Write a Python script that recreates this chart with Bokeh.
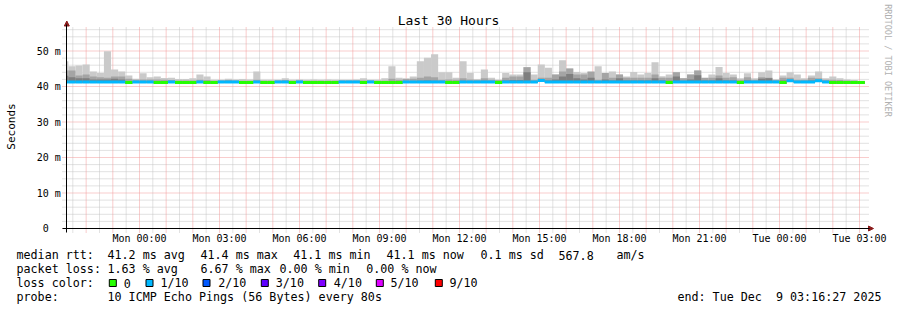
from bokeh.plotting import figure
from bokeh.models import Range1d, FixedTicker, ColumnDataSource
from bokeh.core.properties import value
from bokeh.embed import file_html
from bokeh.resources import INLINE
import math

# ---------------- data ----------------
# time in hours relative to Mon 00:00
view_start_h = -(2 + 43 / 60 + 33 / 3600)      # Sun 21:16:27
view_end_h = 27 + 16 / 60 + 27 / 3600          # Tue 03:16:27
tick_hours = [0, 3, 6, 9, 12, 15, 18, 21, 24, 27]
tick_labels = ["Mon 00:00", "Mon 03:00", "Mon 06:00", "Mon 09:00", "Mon 12:00",
               "Mon 15:00", "Mon 18:00", "Mon 21:00", "Tue 00:00", "Tue 03:00"]
y_ticks = [0, 10, 20, 30, 40, 50]
y_tick_labels = ["0\u00a0\u00a0", "10 m", "20 m", "30 m", "40 m", "50 m"]

bar_step_min = 16          # consolidation step
first_bar_min = -176       # Sun 21:04

# loss class per bar: 0 -> 0 lost, 1 -> 1/10 lost
loss = [1, 1, 1, 1, 1, 1, 1, 1, 1, 0,
        1, 1, 1, 0, 0, 1, 0, 0, 0, 1,
        0, 0, 1, 1, 1, 0, 0, 1, 0, 0,
        1, 1, 0, 1, 0, 0, 0, 0, 0, 1,
        1, 1, 0, 1, 0, 0, 0, 0, 1, 1,
        1, 1, 1, 1, 0, 0, 1, 1, 1, 1,
        1, 0, 1, 1, 1, 1, 1, 1, 1, 1,
        1, 1, 1, 1, 1, 1, 1, 1, 1, 1,
        1, 1, 1, 1, 1, 0, 1, 1, 1, 1,
        1, 1, 1, 1, 1, 0, 1, 1, 1, 1,
        1, 0, 1, 1, 1, 1, 1, 1, 0, 0,
        0, 0, 0]

median_ms = [41.3, 41.3, 41.3, 41.3, 41.3, 41.3, 41.3, 41.3, 41.3, 41.1,
             41.3, 41.3, 41.3, 41.1, 41.1, 41.3, 41.1, 41.1, 41.1, 41.3,
             41.1, 41.1, 41.3, 41.3, 41.3, 41.1, 41.1, 41.3, 41.1, 41.1,
             41.3, 41.3, 41.1, 41.3, 41.1, 41.1, 41.1, 41.1, 41.1, 41.3,
             41.3, 41.3, 41.1, 41.3, 41.1, 41.1, 41.1, 41.1, 41.3, 41.3,
             41.3, 41.3, 41.3, 41.3, 41.1, 41.1, 41.3, 41.3, 41.3, 41.3,
             41.3, 41.1, 41.3, 41.3, 41.3, 41.3, 41.3, 41.7, 41.3, 41.3,
             41.3, 41.3, 41.3, 41.3, 41.3, 41.3, 41.3, 41.3, 41.3, 41.3,
             41.3, 41.3, 41.3, 41.3, 41.3, 41.1, 41.3, 41.3, 41.3, 41.3,
             41.3, 41.3, 41.3, 41.3, 41.3, 41.1, 41.3, 41.3, 41.3, 41.3,
             41.3, 41.1, 41.6, 41.3, 41.3, 41.3, 41.6, 41.3, 41.1, 41.1,
             41.1, 41.1, 41.1]

# smoke: outer (max) ping band top
smoke_max = [47.1, 45.7, 45.9, 46.2, 44.2, 43.8, 49.9, 44.8, 44.2, 43.1,
             42.2, 43.7, 42.6, 42.8, 42.4, 42.5, 42.1, 42.1, 42.3, 43.4,
             42.8, 41.9, 41.9, 42.2, 42.0, 42.1, 42.0, 44.2, 41.9, 41.9,
             41.9, 42.3, 41.9, 42.0, 41.9, 42.0, 41.9, 42.0, 41.9, 41.9,
             41.9, 42.0, 42.3, 41.9, 41.9, 42.3, 45.7, 42.5, 42.3, 42.8,
             47.1, 48.1, 49.1, 44.0, 44.0, 42.5, 47.1, 43.8, 42.0, 44.8,
             42.5, 41.9, 43.8, 43.4, 43.4, 45.5, 43.4, 46.2, 45.3, 43.4,
             47.4, 45.1, 44.1, 43.8, 44.1, 45.7, 43.8, 44.2, 43.4, 42.8,
             44.1, 43.4, 43.8, 46.8, 42.9, 43.4, 44.0, 42.3, 43.4, 44.5,
             42.3, 43.4, 45.5, 43.8, 43.4, 42.3, 43.7, 42.3, 44.0, 44.5,
             41.9, 43.1, 44.0, 43.4, 42.3, 43.1, 44.2, 42.3, 42.8, 42.3,
             42.0, 41.8, 41.6]

# second ping band top
smoke_p2 = [44.5, 44.5, 43.1, 43.4, 42.8, 42.6, 42.5, 42.8, 42.8, 42.2,
            41.9, 42.0, 42.0, 42.0, 41.9, 41.8, 41.7, 41.7, 41.7, 41.9,
            41.8, 41.6, 41.7, 41.8, 41.7, 41.6, 41.6, 41.9, 41.6, 41.6,
            41.7, 41.8, 41.6, 41.7, 41.6, 41.6, 41.6, 41.6, 41.6, 41.7,
            41.7, 41.7, 41.7, 41.7, 41.6, 41.6, 42.2, 41.9, 42.1, 42.2,
            42.5, 42.8, 42.6, 41.9, 42.0, 41.9, 42.3, 42.0, 41.9, 42.3,
            41.9, 41.8, 42.5, 42.8, 42.8, 45.4, 41.9, 42.5, 42.5, 43.4,
            44.2, 45.1, 43.4, 43.4, 44.2, 41.9, 43.8, 42.5, 43.4, 42.5,
            42.5, 42.5, 42.5, 43.4, 42.5, 42.5, 44.0, 42.3, 43.4, 44.5,
            42.5, 42.5, 43.1, 42.5, 42.6, 41.9, 42.6, 41.9, 42.6, 42.5,
            41.9, 42.5, 42.5, 41.9, 41.9, 42.5, 42.3, 41.9, 41.9, 41.8,
            41.7, 41.6, 41.5]

# third ping band top
smoke_p3 = [43.0, 42.6, 42.3, 42.3, 42.0, 42.0, 42.0, 42.2, 42.0, 41.5,
            41.5, 41.5, 41.5, 41.5, 41.5, 41.5, 41.5, 41.5, 41.5, 41.5,
            41.5, 41.5, 41.5, 41.5, 41.5, 41.5, 41.5, 41.5, 41.5, 41.5,
            41.5, 41.5, 41.5, 41.5, 41.5, 41.5, 41.5, 41.5, 41.5, 41.5,
            41.5, 41.5, 41.5, 41.5, 41.5, 41.5, 41.5, 41.5, 41.5, 41.5,
            41.6, 41.7, 41.6, 41.5, 41.5, 41.5, 41.6, 41.5, 41.5, 41.6,
            41.5, 41.5, 41.7, 41.8, 41.8, 44.0, 41.5, 41.7, 41.7, 42.0,
            42.8, 43.5, 42.3, 42.0, 42.5, 41.5, 42.0, 41.7, 42.3, 41.7,
            41.7, 41.7, 41.7, 42.3, 41.7, 41.6, 42.8, 41.6, 42.0, 43.2,
            41.7, 41.7, 42.3, 41.7, 41.7, 41.5, 41.7, 41.5, 42.2, 42.3,
            41.5, 41.7, 41.8, 41.5, 41.5, 41.7, 41.8, 41.5, 41.5, 41.5,
            41.5, 41.5, 41.4]

loss_labels = ["0", "1/10", "2/10", "3/10", "4/10", "5/10", "9/10"]
loss_colors = ["#26ff00", "#00b8ff", "#0059ff", "#5e00ff", "#7e00ff", "#dd00ff", "#ff0000"]

stats_rtt = ["median rtt:", "41.2 ms avg", "41.4 ms max", "41.1 ms min",
             "41.1 ms now", "0.1 ms sd", "567.8", "am/s"]
stats_loss = ["packet loss:", "1.63 % avg", "6.67 % max", "0.00 % min", "0.00 % now"]
probe_text = ["probe:", "10 ICMP Echo Pings (56 Bytes) every 80s"]
end_text = "end: Tue Dec \u00a09 03:16:27 2025"
title_text = "Last 30 Hours"
y_label = "Seconds"
credit_text = "RRDTOOL / TOBI OETIKER"

# ---------------- layout (pixel geometry) ----------------
W, H = 897, 310
X0_PX, PX_PER_H = 66.3, 800 / 30      # canvas x of the window start, px per hour
Y0_PX, PX_PER_MS = 228.0, 3.55        # canvas y of 0 ms, px per ms
MONO = "DejaVu Sans Mono"


def px_x(px):
    return view_start_h + (px - X0_PX) / PX_PER_H


def px_y(py):
    return (Y0_PX - py) / PX_PER_MS


p = figure(width=W, height=H, output_backend="svg", toolbar_location=None,
           x_range=Range1d(px_x(0), px_x(W)), y_range=Range1d(px_y(H), px_y(0)),
           min_border=0, min_border_left=0, min_border_right=0,
           min_border_top=0, min_border_bottom=0)
p.outline_line_color = None
p.background_fill_color = "white"
p.border_fill_color = "white"
p.xgrid.visible = False
p.ygrid.visible = False

# ---- grid lines (rrdtool style, dotted) ----
half_hours = [h / 2 for h in range(-5, 55)]
minor_x = [h for h in half_hours if h != int(h)]
major_x = [h for h in range(-2, 28)]
minor_y = [v for v in range(0, 57, 2) if v % 10]
major_y = y_ticks
gy0, gy1 = px_y(232), px_y(26)
gx0, gx1 = px_x(62), px_x(868.5)
p.segment(x0=minor_x, x1=minor_x, y0=[gy0] * len(minor_x), y1=[gy1] * len(minor_x),
          line_color="#c4c4c4", line_width=1, line_dash="1 1")
p.segment(x0=[gx0] * len(minor_y), x1=[gx1] * len(minor_y), y0=minor_y, y1=minor_y,
          line_color="#c4c4c4", line_width=1, line_dash="1 1")
p.segment(x0=major_x, x1=major_x, y0=[gy0] * len(major_x), y1=[gy1] * len(major_x),
          line_color="#f29a9a", line_width=1, line_dash="1 1")
p.segment(x0=[gx0] * len(major_y), x1=[gx1] * len(major_y), y0=major_y, y1=major_y,
          line_color="#f29a9a", line_width=1, line_dash="1 1")

# ---- smoke bands and median ----
n = len(loss)
left = [(first_bar_min + i * bar_step_min) / 60 for i in range(n)]
right = [(first_bar_min + (i + 1) * bar_step_min) / 60 for i in range(n)]
left = [max(l, view_start_h) for l in left]
bottom = [m - 0.3 for m in median_ms]
src = ColumnDataSource(dict(left=left, right=right, bottom=bottom,
                            top1=smoke_max, top2=smoke_p2, top3=smoke_p3,
                            med=median_ms,
                            color=[loss_colors[c] for c in loss]))
p.quad(left="left", right="right", bottom="bottom", top="top1", source=src,
       fill_color="#cacaca", line_color=None)
p.quad(left="left", right="right", bottom="bottom", top="top2", source=src,
       fill_color="#a4a4a4", line_color=None)
p.quad(left="left", right="right", bottom="bottom", top="top3", source=src,
       fill_color="#7e7e7e", line_color=None)
p.segment(x0="left", x1="right", y0="med", y1="med", source=src,
          line_color="color", line_width=3, line_cap="butt")

# ---- axes, fixed inside the full-canvas frame ----
p.xaxis.fixed_location = 0
p.yaxis.fixed_location = view_start_h
p.xaxis.bounds = (px_x(62), px_x(869))
p.yaxis.bounds = (px_y(232), px_y(24))
p.xaxis.ticker = FixedTicker(ticks=tick_hours)
p.xaxis.major_label_overrides = {h: l for h, l in zip(tick_hours, tick_labels)}
p.yaxis.ticker = FixedTicker(ticks=y_ticks)
p.yaxis.major_label_overrides = {v: l for v, l in zip(y_ticks, y_tick_labels)}
for ax in (p.xaxis, p.yaxis):
    ax.axis_line_color = "black"
    ax.axis_line_width = 1
    ax.major_label_text_font = MONO
    ax.major_label_text_font_size = "10px"
    ax.major_label_text_color = "black"
    ax.major_tick_in = 0
    ax.major_tick_out = 0
    ax.minor_tick_in = 0
    ax.minor_tick_out = 0
p.xaxis.major_label_standoff = 4
p.yaxis.major_label_standoff = 6

# ---- arrow heads ----
ar = "#8b1c1c"
p.patch(x=[px_x(63.8), px_x(66.3), px_x(68.8)], y=[px_y(25.5), px_y(20.5), px_y(25.5)],
        fill_color=ar, line_color=ar)
p.patch(x=[px_x(868), px_x(873), px_x(868)], y=[px_y(225.5), px_y(228), px_y(230.5)],
        fill_color=ar, line_color=ar)


# ---- texts ----
def add_text(xs, ys, texts, size, align="left", color="black", angle=0.0):
    p.text(x=[px_x(v) for v in xs], y=[px_y(v) for v in ys], text=texts,
           text_font=value(MONO), text_font_size=value(size), text_align=align,
           text_baseline="middle", text_color=color, angle=angle)


add_text([448], [19.5], [title_text], "13px", align="center")
add_text([11], [126], [y_label], "11px", align="center", angle=math.pi / 2)
add_text([887], [60], [credit_text], "8.5px", align="center", color="#b0b0b0",
         angle=-math.pi / 2)

LEG = "11.7px"
row_y = [254.5, 268.5, 282.5, 296.5]
add_text([16, 107, 200, 292.7, 386, 480, 558, 616], [row_y[0]] * 8, stats_rtt, LEG)
add_text([16, 107, 200, 279, 365.7], [row_y[1]] * 5, stats_loss, LEG)
add_text([16], [row_y[2]], ["loss color:"], LEG)
box_x = [112.3, 149.0, 206.0, 264.3, 321.7, 379.3, 438.3]
lab_x = [123.3, 160.0, 217.7, 275.3, 333.3, 390.0, 449.0]
p.rect(x=[px_x(v) for v in box_x], y=[px_y(row_y[2])] * len(box_x), width=7, height=7,
       width_units="screen", height_units="screen",
       fill_color=loss_colors, line_color="black", line_width=1)
add_text(lab_x, [row_y[2]] * len(lab_x), loss_labels, LEG)
add_text([16, 107], [row_y[3]] * 2, probe_text, LEG)
add_text([881], [row_y[3]], [end_text], LEG, align="right")

open("out.html", "w").write(file_html(p, INLINE))
